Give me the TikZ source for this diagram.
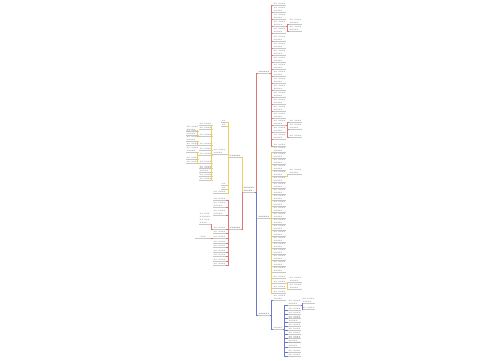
\documentclass[tikz,border=0pt]{standalone}
\usetikzlibrary{positioning}

\definecolor{mapred}{RGB}{222,120,120}
\definecolor{mapyel}{RGB}{238,206,100}
\definecolor{mapblue}{RGB}{110,122,200}

% placeholder lines for the small leaf texts
\newcommand\leaftext[1]{\ifcase#1 xx\or xx xxxx\or xx xxxx\\xxxxx\or xx xxxx\\xxxxxx\\xxxx\or xx xxx\\xxxxxx\\xx xxx\\xxxx\fi}

\tikzset{
  leaf/.style={font=\fontsize{1.4}{1.7}\selectfont, text=black!50, inner xsep=0.2pt, inner ysep=0.3pt, align=left,
    append after command={(\tikzlastnode.south west) edge[draw=black!22, line width=0.15pt] (\tikzlastnode.south east)}},
  topic/.style={leaf, text=black!65},
  redline/.style={draw=mapred, line width=0.45pt},
  yelline/.style={draw=mapyel, line width=0.45pt},
  blueline/.style={draw=mapblue, line width=0.45pt},
}

\begin{document}
\begin{tikzpicture}[x=0.02cm, y=-0.02cm]
  \useasboundingbox (0,0) rectangle (500,360);

  % centre and main topics
  \node[topic, anchor=south west] (root) at (243,192) {xxxxxx\\xxxxx};
  \node[topic, anchor=south east] (lefttop) at (241,157) {xxxxxx};
  \node[topic, anchor=south east] (leftbot) at (241,229) {xxxxxx};
  \node[topic, anchor=south west] (righttop) at (258,73) {xxxxxx};
  \node[topic, anchor=south west] (rightmid) at (258,218) {xxxxxx};
  \node[topic, anchor=south west] (rightbot) at (258,315) {xxxxxx};

  \draw[yelline] (root.south west) -- ++(-1,0) |- (lefttop.south east);
  \draw[redline] (root.south west) -- ++(-1,0) |- (leftbot.south east);
  \draw[redline] (root.south east) -- ++(1,0) |- (righttop.south west);
  \draw[yelline] (root.south east) -- ++(1,0) |- (rightmid.south west);
  \draw[blueline] (root.south east) -- ++(1,0) |- (rightbot.south west);

  % right top branch
  \foreach \y/\n [count=\i] in {5/1,12/2,19/2,26/2,33/2,41/2,48/2,55/2,62/2,69/2,76/2,83/2,90/2,97/2,104/2,111/2,118/2,125/2,132/2,139/2,146/1} {
    \node[leaf, anchor=south west] (rt\i) at (273,\y) {\leaftext{\n}};
    \draw[redline] (righttop.south east) -- ++(1,0) |- (rt\i.south west);
  }
  \foreach \y/\n [count=\i] in {24/2,31/2} {
    \node[leaf, anchor=south west] (rta\i) at (289,\y) {\leaftext{\n}};
    \draw[redline] (rt4.south east) -- ++(1,0) |- (rta\i.south west);
  }
  \foreach \y/\n [count=\i] in {122/1,129/2,137/1} {
    \node[leaf, anchor=south west] (rtb\i) at (289,\y) {\leaftext{\n}};
    \draw[redline] (rt18.south east) -- ++(1,0) |- (rtb\i.south west);
  }

  % right middle branch
  \foreach \y/\n [count=\i] in {152/2,158/2,164/2,170/2,176/2,182/2,188/2,194/2,200/2,206/2,212/2,218/2,224/2,230/2,236/2,242/2,248/2,254/2,260/2,266/2,272/2,278/1,283/1,288/1,293/1} {
    \node[leaf, anchor=south west] (rm\i) at (273,\y) {\leaftext{\n}};
    \draw[yelline] (rightmid.south east) -- ++(1,0) |- (rm\i.south west);
  }
  \node[leaf, anchor=south west] (rma1) at (289,174) {\leaftext{2}};
  \draw[yelline] (rm5.south east) -- ++(1,0) |- (rma1.south west);
  \foreach \y/\n [count=\i] in {282/2,289/2} {
    \node[leaf, anchor=south west] (rmb\i) at (289,\y) {\leaftext{\n}};
    \draw[yelline] (rm23.south east) -- ++(1,0) |- (rmb\i.south west);
  }

  % right bottom branch
  \node[leaf, anchor=south west] (rb1) at (273,300) {\leaftext{2}};
  \node[leaf, anchor=south west] (rb2) at (273,329) {xxxxx};
  \draw[blueline] (rightbot.south east) -- ++(1,0) |- (rb1.south west);
  \draw[blueline] (rightbot.south east) -- ++(1,0) |- (rb2.south west);
  \foreach \y/\n [count=\i] in {305/2,310/1,314/1,318/1,322/2,326/1,330/1,334/1,338/1,342/2,347/2,352/1,356/1} {
    \node[leaf, anchor=south west] (rbb\i) at (288,\y) {\leaftext{\n}};
    \draw[blueline] (rb2.south east) -- ++(1,0) |- (rbb\i.south west);
  }
  \foreach \y/\n [count=\i] in {303/2,309/1} {
    \node[leaf, anchor=south west] (rbc\i) at (302,\y) {\leaftext{\n}};
    \draw[blueline] (rbb1.south east) -- ++(1,0) |- (rbc\i.south west);
  }

  % left top branch
  \foreach \y/\n [count=\i] in {122/0,126/0,154/2,185/0,189/0,193/1} {
    \node[leaf, anchor=south east] (lt\i) at (226,\y) {\leaftext{\n}};
    \draw[yelline] (lefttop.south west) -- ++(-1,0) |- (lt\i.south east);
  }
  \foreach \y/\n [count=\i] in {125/1,129/1,136/1,145/1,150/1,155/1,163/1,168/1,172/2,176/1,180/1} {
    \node[leaf, anchor=south east] (lta\i) at (212,\y) {\leaftext{\n}};
    \draw[yelline] (lt3.south west) -- ++(-1,0) |- (lta\i.south east);
  }
  \foreach \y/\n [count=\i] in {131/2,135/2} {
    \node[leaf, anchor=south east] (ltb\i) at (199,\y) {\leaftext{\n}};
    \draw[yelline] (lta3.south west) -- ++(-1,0) |- (ltb\i.south east);
  }
  \foreach \y/\n [count=\i] in {141/2,145/1} {
    \node[leaf, anchor=south east] (ltc\i) at (199,\y) {\leaftext{\n}};
    \draw[yelline] (lta4.south west) -- ++(-1,0) |- (ltc\i.south east);
  }
  \foreach \y/\n [count=\i] in {152/2,159/1,163/1} {
    \node[leaf, anchor=south east] (ltd\i) at (199,\y) {\leaftext{\n}};
    \draw[yelline] (lta6.south west) -- ++(-1,0) |- (ltd\i.south east);
  }

  % left bottom branch
  \foreach \y/\n [count=\i] in {200/1,207/2,215/2,229/1,233/1,238/1,243/1,247/1,252/1,256/1,261/1,265/1} {
    \node[leaf, anchor=south east] (lb\i) at (226,\y) {\leaftext{\n}};
    \draw[redline] (leftbot.south west) -- ++(-1,0) |- (lb\i.south east);
  }
  \node[leaf, anchor=south east] (lba1) at (211,224) {\leaftext{4}};
  \draw[redline] (lb4.south west) -- ++(-1,0) |- (lba1.south east);
  \node[leaf, anchor=south east, minimum width=0.3cm] (lbb1) at (211,238) {xxx};
  \draw[redline] (lb6.south west) -- ++(-1,0) |- (lbb1.south east);
\end{tikzpicture}
\end{document}
